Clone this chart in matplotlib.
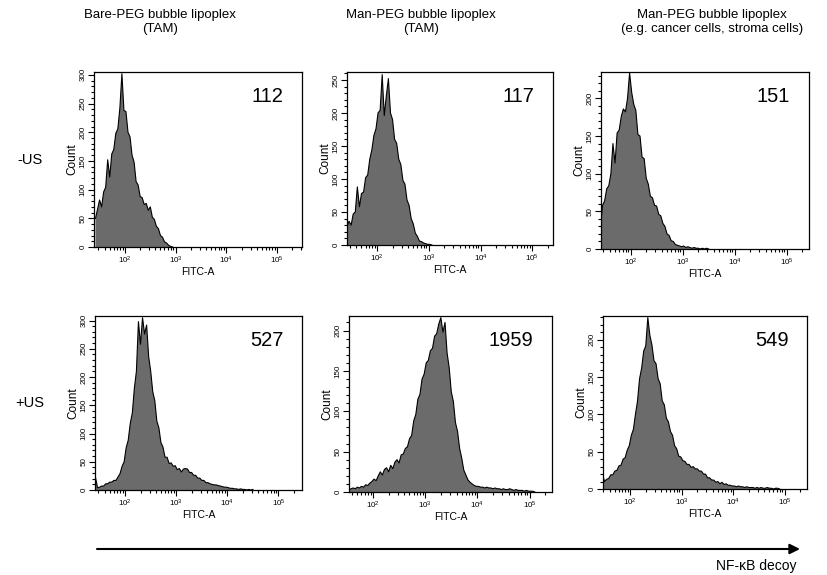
import numpy as np
import matplotlib
matplotlib.use('Agg')
import matplotlib.pyplot as plt
from matplotlib.ticker import MultipleLocator, LogLocator, FixedLocator, NullFormatter

plt.rcParams['font.family'] = ['Liberation Sans', 'DejaVu Sans']
plt.rcParams['mathtext.fontset'] = 'custom'
plt.rcParams['mathtext.rm'] = 'Liberation Sans'

# column titles / row labels
col_titles = ['Bare-PEG bubble lipoplex\n(TAM)',
              'Man-PEG bubble lipoplex\n(TAM)',
              'Man-PEG bubble lipoplex\n(e.g. cancer cells, stroma cells)']
row_labels = ['-US', '+US']
mfi = ['112', '117', '151', '527', '1959', '549']

# histogram channels: log10(FITC-A) of first channel centre + channel width
bin_start = 1.42
bin_width = 0.04

counts_1 = [50, 66, 82, 70, 96, 104, 152, 122, 162, 170, 198, 206, 242, 302, 238, 236,
            200, 192, 160, 148, 114, 108, 88, 86, 74, 76, 64, 70, 52, 48, 36, 32,
            20, 17, 9, 7, 3, 1, 0]
counts_2 = [28, 36, 30, 47, 50, 88, 58, 78, 80, 102, 106, 130, 144, 166, 176, 200,
            204, 258, 196, 226, 252, 200, 190, 160, 154, 130, 122, 98, 92, 68, 60, 40,
            32, 18, 13, 6, 5, 3, 2, 1, 1, 0]
counts_3 = [30, 58, 64, 80, 84, 100, 140, 114, 154, 158, 176, 186, 182, 200, 234, 208,
            192, 184, 152, 150, 122, 120, 94, 86, 70, 68, 58, 57, 46, 44, 34, 30,
            20, 18, 11, 10, 6, 5, 4, 3, 4, 2, 3, 2, 1, 2, 1, 1, 0, 1, 0, 1, 0]
counts_4 = [22, 4, 5, 7, 7, 11, 11, 14, 14, 17, 17, 23, 29, 42, 50, 75,
            88, 118, 136, 180, 210, 298, 258, 305, 276, 292, 236, 210, 174, 158, 122, 110,
            84, 76, 58, 58, 47, 48, 42, 43, 36, 38, 32, 37, 38, 37, 31, 31,
            26, 26, 21, 21, 17, 17, 13, 13, 11, 10, 9, 9, 8, 7, 6, 5,
            5, 4, 3, 3, 2, 2, 1, 2, 1, 1, 0, 1, 0, 1]
counts_5 = [0, 0, 26, 3, 4, 5, 4, 6, 5, 7, 6, 9, 8, 11, 13, 16,
            14, 20, 25, 21, 28, 30, 25, 33, 29, 37, 40, 36, 46, 47, 54, 56,
            66, 70, 88, 96, 115, 121, 140, 146, 160, 163, 175, 178, 193, 196, 208, 216,
            198, 210, 172, 154, 124, 112, 86, 75, 54, 42, 27, 21, 15, 12, 10, 8,
            7, 7, 6, 6, 5, 6, 5, 5, 4, 5, 4, 4, 3, 4, 3, 3,
            4, 3, 2, 3, 2, 2, 2, 1, 2, 1, 1, 1, 0]
counts_6 = [0, 20, 10, 13, 14, 19, 19, 24, 25, 31, 32, 40, 42, 52, 58, 72,
            80, 100, 118, 148, 162, 185, 192, 230, 206, 193, 172, 168, 148, 141, 118, 113,
            95, 90, 77, 72, 58, 54, 44, 43, 38, 37, 33, 33, 29, 30, 27, 27,
            24, 24, 20, 20, 15, 15, 12, 12, 9, 10, 7, 9, 6, 7, 5, 5,
            4, 4, 3, 4, 3, 3, 2, 3, 2, 2, 2, 1, 2, 1, 2, 1,
            1, 2, 1, 1, 0, 1, 1, 0]
all_counts = [counts_1, counts_2, counts_3, counts_4, counts_5, counts_6]

y_max = [305, 262, 235, 308, 218, 232]
x_lo = [1.39, 1.42, 1.43, 1.41, 1.54, 1.47]   # log10 axis limits
x_hi = [5.49, 5.40, 5.43, 5.46, 5.43, 5.43]

# axes boxes in pixels: left, top, right, bottom
W, H = 827, 575
boxes = [(94, 72, 302, 247), (347, 72, 553, 245), (601, 72, 809, 249),
         (95, 316, 302, 490), (349, 316, 552, 492), (603, 316, 807, 489)]

fig = plt.figure(figsize=(W / 100, H / 100), dpi=100)

for i in range(6):
    l, t, r, b = boxes[i]
    ax = fig.add_axes([l / W, 1 - b / H, (r - l) / W, (b - t) / H])
    c = np.array(all_counts[i], dtype=float)
    xs = 10 ** (bin_start + bin_width * np.arange(len(c)))
    ax.fill_between(xs, 0, c, facecolor='#6b6b6b', edgecolor='none', linewidth=0)
    ax.plot(xs, c, color='black', linewidth=0.8)
    ax.set_xscale('log')
    ax.set_xlim(10 ** x_lo[i], 10 ** x_hi[i])
    ax.set_ylim(0, y_max[i])

    ax.xaxis.set_major_locator(FixedLocator([1e2, 1e3, 1e4, 1e5]))
    ax.set_xticklabels([r'$\mathregular{10^{2}}$', r'$\mathregular{10^{3}}$',
                        r'$\mathregular{10^{4}}$', r'$\mathregular{10^{5}}$'])
    ax.xaxis.set_minor_locator(LogLocator(base=10, subs=np.arange(2, 10), numticks=20))
    ax.xaxis.set_minor_formatter(NullFormatter())
    ax.yaxis.set_major_locator(MultipleLocator(50))
    ax.yaxis.set_minor_locator(MultipleLocator(10))

    ax.tick_params(axis='both', which='major', direction='out', length=4, width=0.8,
                   labelsize=5.8, pad=1.5)
    ax.tick_params(axis='both', which='minor', direction='out', length=2.5, width=0.8)
    ax.tick_params(axis='y', labelrotation=90)
    for lab in ax.get_yticklabels():
        lab.set_va('center')

    for s in ax.spines.values():
        s.set_linewidth(0.9)

    ax.set_xlabel('FITC-A', fontsize=7.5, labelpad=1)
    ax.set_ylabel('Count', fontsize=8.5, labelpad=1)
    ax.text(0.91, 0.86, mfi[i], transform=ax.transAxes, ha='right', va='center',
            fontsize=14.5)

# column titles
title_x = [160, 421, 712]
for j in range(3):
    fig.text(title_x[j] / W, 1 - 22 / H, col_titles[j], ha='center', va='center',
             fontsize=9.5, linespacing=1.2)

# row labels
row_y = [160, 403]
for k in range(2):
    fig.text(30 / W, 1 - row_y[k] / H, row_labels[k], ha='center', va='center', fontsize=10.5)

# NF-kB decoy arrow
fig.add_artist(matplotlib.patches.FancyArrowPatch(
    (97 / W, 1 - 549 / H), (800 / W, 1 - 549 / H), transform=fig.transFigure,
    arrowstyle='-|>,head_length=6,head_width=3', color='black', linewidth=1.5,
    shrinkA=0, shrinkB=0))
fig.text(797 / W, 1 - 566 / H, 'NF-\u03baB decoy', ha='right', va='center', fontsize=10)

fig.savefig('out.png', dpi=100)
